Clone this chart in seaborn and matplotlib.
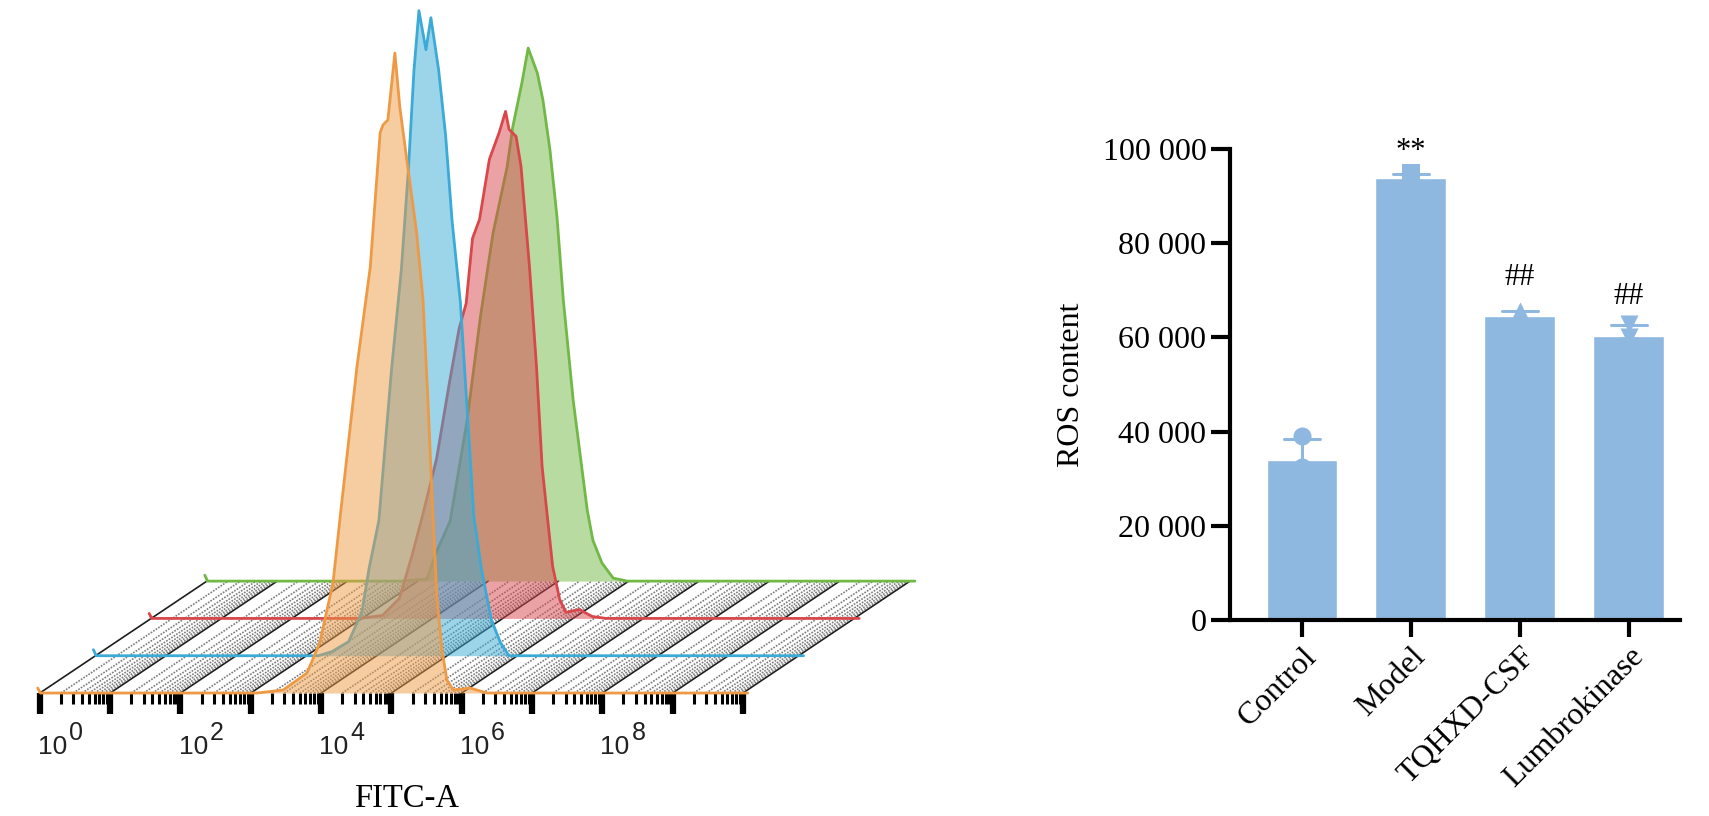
import matplotlib
matplotlib.use("Agg")
import matplotlib.pyplot as plt
from matplotlib import font_manager
import numpy as np
import pandas as pd
import seaborn as sns

# ---- flow cytometry overlay: x = log10(FITC-A), y = events ----
# front layer first (orange), back layer last (green)
orange_log = [-0.35, -0.31, 2.77, 3.14, 3.48, 3.66, 3.85, 3.95, 4.19, 4.38, 4.52, 4.56, 4.63, 4.73,
              4.80, 4.90, 5.04, 5.13, 5.20, 5.27, 5.33, 5.40, 5.47, 5.56, 5.68, 5.80, 6.04, 9.75]
orange_count = [5, 0, 0, 3, 20, 50, 110, 175, 326, 426, 560, 568, 573, 640,
                586, 533, 460, 393, 293, 180, 93, 43, 13, 3, 4, 5, 0, 0]

blue_log = [-0.35, -0.31, 2.85, 3.04, 3.28, 3.47, 3.57, 3.71, 3.89, 4.03, 4.13, 4.21, 4.28, 4.38,
            4.45, 4.56, 4.66, 4.75, 4.87, 4.96, 5.06, 5.17, 5.31, 5.44, 5.56, 9.75]
blue_count = [6, 0, 0, 4, 14, 44, 87, 135, 286, 386, 486, 586, 645, 606,
              638, 586, 520, 436, 353, 253, 140, 86, 36, 13, 0, 0]

red_log = [-0.35, -0.31, 2.64, 2.97, 3.21, 3.39, 3.54, 3.74, 3.92, 4.06, 4.16, 4.25, 4.35, 4.49,
           4.63, 4.72, 4.77, 4.87, 4.94, 5.06, 5.16, 5.24, 5.31, 5.39, 5.49, 5.58, 5.77, 5.95,
           6.15, 9.75]
red_count = [5, 0, 0, 3, 20, 63, 103, 160, 235, 290, 315, 380, 399, 459,
             486, 507, 489, 482, 452, 352, 252, 152, 105, 52, 19, 6, 9, 2,
             0, 0]

green_log = [-0.35, -0.31, 2.43, 2.81, 2.95, 3.14, 3.38, 3.57, 3.75, 3.95, 4.03, 4.16, 4.25, 4.38,
             4.46, 4.56, 4.66, 4.75, 4.89, 5.09, 5.17, 5.30, 5.46, 5.66, 9.75]
green_count = [6, 0, 0, 2, 30, 60, 160, 264, 348, 414, 454, 498, 533, 508,
               481, 431, 364, 281, 181, 71, 41, 18, 3, 0, 0]

hist_colors = ["#EE9A45", "#3AAAD6", "#D9474B", "#72B846"]
decade_labels = [0, 2, 4, 6, 8]

# ---- ROS content (n = 3 per group), mean +/- SD ----
groups = ["Control", "Model", "TQHXD-CSF", "Lumbrokinase"]
control_ros = [39000, 32500, 30200]
model_ros = [94900, 93600, 93200]
tqhxd_ros = [65500, 64600, 63400]
lumbro_ros = [62800, 60000, 58100]
group_markers = ["o", "s", "^", "v"]
sig_text = ["", "**", "##", "##"]
sig_height = [0, 97900, 71200, 67100]
y_ticks = [0, 20000, 40000, 60000, 80000, 100000]

BAR_BLUE = "#8FB8E1"

sns.set_style("white")
installed = {f.name for f in font_manager.fontManager.ttflist}
tick_font = "Liberation Sans Narrow" if "Liberation Sans Narrow" in installed else "Liberation Sans"
plt.rcParams["font.family"] = ["Liberation Serif", "DejaVu Serif"]
for key in ["text.color", "axes.labelcolor", "xtick.color", "ytick.color", "axes.edgecolor"]:
    plt.rcParams[key] = "black"

fig = plt.figure(figsize=(17.09, 8.16), dpi=100)

# ================= left: pseudo-3D histogram overlay =================
ax = fig.add_axes([0.0222, 0.1507, 0.4155, 0.8493])
ax.set_xlim(-0.347, 9.753)
ax.set_ylim(0, 693)
ax.patch.set_alpha(0)
for s in ax.spines.values():
    s.set_visible(False)

# step between stacked layers (decades, events)
DX, DY = 0.792, 37.3
n_layers = 4
first_tick = -0.32

# floor grid, one line per tick running back to the last layer
major_ticks, minor_ticks = [], []
for k in range(11):
    for m in range(1, 10):
        d = first_tick + k + np.log10(m)
        if d > 9.753:
            break
        depth_x = [d, d + (n_layers - 1) * DX]
        depth_y = [0, (n_layers - 1) * DY]
        if m == 1:
            major_ticks.append(d)
            ax.plot(depth_x, depth_y, color="#1e1e1e", lw=1.2, zorder=1, clip_on=False)
        else:
            minor_ticks.append(d)
            ax.plot(depth_x, depth_y, color="#7c7c7c", lw=1.2, ls=(0, (1.0, 0.8)),
                    zorder=1, clip_on=False)

layers = [(orange_log, orange_count), (blue_log, blue_count),
          (red_log, red_count), (green_log, green_count)]
for i in reversed(range(n_layers)):
    lx, ly = layers[i]
    x = np.asarray(lx) + i * DX
    y = np.asarray(ly) + i * DY
    ax.fill_between(x, i * DY, y, color=hist_colors[i], alpha=0.5, lw=0,
                    zorder=2 + (n_layers - i), clip_on=False)
    ax.plot(x, y, color=hist_colors[i], lw=2.0, zorder=2.5 + (n_layers - i),
            clip_on=False, solid_joinstyle="round")

ax.set_xticks(major_ticks)
ax.set_xticks(minor_ticks, minor=True)
ax.tick_params(axis="x", which="major", bottom=True, length=15, width=4.5, color="black",
               direction="out", labelbottom=False)
ax.tick_params(axis="x", which="minor", bottom=True, length=8, width=2.2, color="black",
               direction="out", labelbottom=False)
ax.tick_params(axis="y", left=False, labelleft=False)

# decade labels: "10" with a near full-size exponent, as in the cytometer export
for d in decade_labels:
    ax.annotate("10", xy=(d, 0), xycoords="data", xytext=(3.5, -44), textcoords="offset points",
                ha="right", va="baseline", fontsize=19, family=tick_font, color="#222222")
    ax.annotate(str(d), xy=(d, 0), xycoords="data", xytext=(5, -34), textcoords="offset points",
                ha="left", va="baseline", fontsize=18, family=tick_font, color="#222222")

fig.text(407 / 1709, 1 - 799 / 816, "FITC-A", ha="center", va="center", fontsize=23.5)

# ================= right: ROS bar chart =================
ros = pd.DataFrame({
    "group": np.repeat(groups, 3),
    "ros": control_ros + model_ros + tqhxd_ros + lumbro_ros,
})

bax = fig.add_axes([1230 / 1709, 1 - 620 / 816, 450 / 1709, 471 / 816])
sns.barplot(data=ros, x="group", y="ros", order=groups, color=BAR_BLUE,
            saturation=1, width=0.65, errorbar="sd", capsize=0.33,
            err_kws={"color": BAR_BLUE, "linewidth": 2.2}, ax=bax)
for g, mk in zip(groups, group_markers):
    sns.stripplot(data=ros[ros["group"] == g], x="group", y="ros", order=groups,
                  marker=mk, color=BAR_BLUE, size=13, jitter=False, ax=bax, zorder=4)

for i, (txt, yy) in enumerate(zip(sig_text, sig_height)):
    if txt:
        bax.text(i, yy, txt, ha="center", va="baseline", fontsize=22)

bax.set_xlim(-0.66, 3.47)
bax.set_ylim(0, 100000)
bax.set_yticks(y_ticks, labels=[f"{v:,}".replace(",", " ") for v in y_ticks])
bax.set_xticks(range(len(groups)), labels=groups)
for lab in bax.get_xticklabels():
    lab.set_rotation(45)
    lab.set_ha("right")
    lab.set_rotation_mode("anchor")
bax.set_xlabel("")
bax.set_ylabel("ROS content", fontsize=23, labelpad=12)
bax.tick_params(axis="y", length=14, width=3, labelsize=23, pad=3, direction="out", left=True)
bax.tick_params(axis="x", length=12, width=3, labelsize=23, pad=4, direction="out", bottom=True)
sns.despine(ax=bax)
bax.spines["left"].set_linewidth(3)
bax.spines["bottom"].set_linewidth(3)

fig.savefig("out.png", dpi=100)
